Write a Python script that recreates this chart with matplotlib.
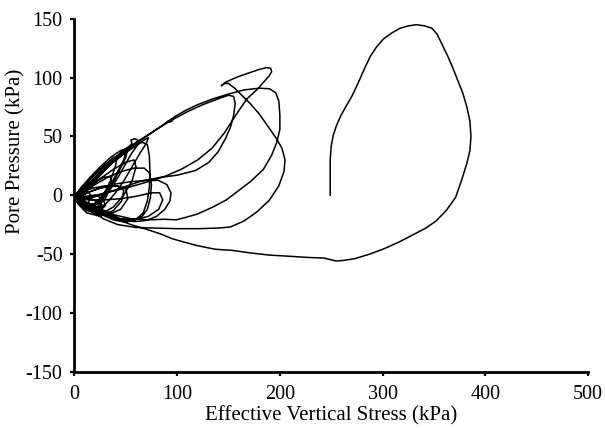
import numpy as np
import matplotlib

matplotlib.use("Agg")
from matplotlib import pyplot as plt

# first cycle: large loop starting from the in-situ state (250 kPa, 0 kPa)
right_x = [249, 249, 249, 250, 252, 255, 259, 264, 270, 276, 282, 288, 294, 301, 309, 317, 325, 333, 341, 348,
           353, 358, 363, 368, 373, 378, 382, 385, 386, 385, 382, 377, 371, 362, 352, 342, 331, 318, 303, 288,
           273, 262, 255, 250]
right_y = [0, 15, 30, 42, 51, 59, 67, 75, 84, 95, 107, 118, 126, 133, 138, 142, 144, 145, 144, 142,
           137, 128, 119, 109, 98, 87, 75, 63, 50, 38, 27, 13, -2, -13, -22, -28, -33, -39, -45, -50,
           -54, -55.5, -56, -55]

# unloading path back towards zero effective stress
bottom_x = [243, 228, 210, 190, 170, 154, 137, 120, 107, 95, 84, 70, 55, 40, 28, 20]
bottom_y = [-53.5, -53, -52, -51, -49, -47, -46, -43, -40, -37, -33, -29, -25, -20, -16, -12]

# second cycle with the hook near 145 kPa and the 108 kPa peak
hook_x = [5, 15, 28, 42, 60, 80, 100, 120, 140, 152, 165, 178, 190, 199, 204, 205, 202, 196, 188, 180,
          171, 163, 156, 150, 146, 143, 147, 152, 160, 170, 180, 187, 191, 192, 190, 185, 178, 168, 157, 146,
          134, 120, 104, 88, 70, 50, 30, 12]
hook_y = [-4, -12, -20, -25, -27.5, -28, -28.5, -28.5, -28, -27, -22, -14, -4, 8, 20, 30, 40, 49, 59, 69,
          78, 85, 91, 95, 95, 93, 96, 98, 101, 104, 107, 108.5, 108, 105, 102, 97, 90, 82, 68, 53,
          40, 30, 22, 16, 11, 6, 2, -2]

l1_x = [4, 12, 22, 32, 45, 60, 75, 85, 91, 95, 97, 95, 92, 98, 108, 120, 135, 150, 165, 180,
        190, 196, 199, 200, 200, 197, 192, 184, 172, 160, 148, 135, 120, 108, 99, 88, 72, 55, 40, 26, 12]
l1_y = [-2, 6, 15, 24, 35, 45, 53, 59, 63, 65, 66, 63, 62, 67, 72, 77, 82, 86, 89.5, 91,
        90.5, 87, 80, 68, 56, 45, 34, 22, 12, 4, -4, -10, -16, -19, -21, -20.5, -21, -20, -17, -12, -6]

l2_x = [3, 10, 20, 35, 50, 65, 80, 95, 110, 125, 140, 150, 155, 156.5, 155, 152, 147, 140, 131, 118,
        100, 83, 65, 45, 25, 10]
l2_y = [-3, 3, 12, 26, 37, 47, 56, 64, 71, 77, 82, 85, 84, 78, 68, 58, 48, 37, 28, 21,
        17, 15, 12, 6, 0, -4]

l3_x = [3, 12, 25, 40, 55, 70, 82, 90, 94, 93, 88, 80, 70, 58, 45, 30, 15, 5]
l3_y = [-3, 2, 6, 9.5, 11.5, 12.5, 12.5, 9, 2, -5, -12, -18, -21.5, -22.5, -20, -15, -9, -4]

l4_x = [2, 10, 20, 32, 45, 58, 68, 73, 75, 74, 71, 66, 58, 48, 36, 24, 12, 4]
l4_y = [-2, 3, 9, 15, 20, 23, 23, 19, 9, -2, -12, -18, -21.5, -22, -19, -14, -8, -4]

l5_x = [3, 12, 24, 36, 48, 58, 66, 71, 73, 73.5, 73, 71, 67, 60, 50, 38, 25, 12, 4]
l5_y = [-1, 8, 19, 29, 37, 42, 45, 43, 33, 20, 7, -5, -15, -20.5, -23, -21, -16, -9, -4]

# small cycles crowded near the origin
t1_x = [2, 10, 20, 30, 38, 42, 40, 35, 28, 20, 10, 3]
t1_y = [-2, 8, 18, 26, 32, 33, 25, 12, 0, -8, -10, -6]
t2_x = [1, 8, 18, 28, 35, 36, 30, 22, 12, 4]
t2_y = [-1, 4, 10, 15, 16, 8, -3, -10, -12, -7]
t3_x = [3, 12, 25, 40, 50, 52, 45, 32, 18, 6]
t3_y = [-3, 2, 6, 8, 6, -3, -12, -17, -15, -8]
t4_x = [1, 6, 15, 25, 35, 45, 52, 50, 42, 34, 25, 14, 5]
t4_y = [0, 6, 15, 24, 32, 38, 40, 32, 18, 5, -6, -12, -8]
t5_x = [2, 10, 20, 28, 30, 24, 14, 5]
t5_y = [-2, -1, 0, -3, -9, -14, -13, -8]
t6_x = [0.5, 6, 12, 16, 14, 8, 1]
t6_y = [-2, 2, 4, 0, -6, -8, -5]
t7_x = [4, 12, 22, 34, 46, 54, 56, 55, 59, 63, 61, 56, 50, 43, 35, 26, 16, 7]
t7_y = [-1, 7, 16, 27, 37, 42, 44, 47, 48, 46, 42, 36, 27, 16, 5, -4, -9, -6]
t8_x = [2, 10, 22, 35, 48, 60, 68, 72, 70, 64, 56, 48, 40, 30, 18, 7]
t8_y = [-1, 6, 16, 26, 35, 42, 47, 49, 44, 36, 24, 12, 2, -8, -13, -9]
t9_x = [3, 12, 25, 38, 50, 58, 60, 56, 48, 38, 26, 12, 4]
t9_y = [-2, 5, 14, 22, 28, 30, 24, 12, 0, -10, -16, -13, -6]
t10_x = [1, 8, 18, 30, 42, 48, 46, 38, 25, 12, 4]
t10_y = [-1, 3, 6, 8, 8, 4, -5, -13, -18, -15, -8]
t11_x = [2, 15, 30, 45, 60, 75, 83, 86, 82, 72, 58, 42, 26, 12, 3]
t11_y = [-3, -4, -4, -3, -1, 2, 2, -4, -12, -18, -21, -20, -15, -9, -4]
t12_x = [1, 8, 18, 28, 38, 46, 50, 48, 42, 36, 28, 20, 10, 3]
t12_y = [0, 7, 16, 24, 31, 36, 37, 30, 20, 10, 0, -7, -8, -4]
t13_x = [0.5, 5, 12, 20, 26, 24, 16, 8, 2]
t13_y = [-3, -6, -9, -11, -10, -6, -3, -1, -1]
t14_x = [1, 8, 16, 24, 28, 22, 12, 3]
t14_y = [-4, -10, -13, -13, -9, -5, -3, -2]

segments = [(right_x, right_y), (bottom_x, bottom_y), (hook_x, hook_y), (l1_x, l1_y), (l2_x, l2_y),
            (t4_x, t4_y), (l5_x, l5_y), (t8_x, t8_y), (t7_x, t7_y), (l3_x, l3_y), (t9_x, t9_y),
            (t1_x, t1_y), (t11_x, t11_y), (l4_x, l4_y), (t12_x, t12_y), (t3_x, t3_y), (t10_x, t10_y),
            (t2_x, t2_y), (t13_x, t13_y), (t5_x, t5_y), (t14_x, t14_y), (t6_x, t6_y)]
stress = np.concatenate([np.asarray(s[0], float) for s in segments])
pore = np.concatenate([np.asarray(s[1], float) for s in segments])

plt.rcParams['font.family'] = ['Liberation Serif', 'DejaVu Serif']
plt.rcParams['axes.unicode_minus'] = False

fig = plt.figure(figsize=(6.05, 4.28), dpi=100)
ax = fig.add_axes([0.123, 0.132, 0.849, 0.824])
ax.plot(stress, pore, color='black', lw=1.1, solid_joinstyle='round')

ax.set_xlim(0, 500)
ax.set_ylim(-150, 150)
ax.set_xticks([0, 100, 200, 300, 400, 500])
ax.set_yticks([-150, -100, -50, 0, 50, 100, 150])
ax.spines['top'].set_visible(False)
ax.spines['right'].set_visible(False)
for side in ['left', 'bottom']:
    ax.spines[side].set_linewidth(2.0)
ax.tick_params(direction='out', length=3, width=1.6, labelsize=14.5, colors='black')
ax.tick_params(axis='y', pad=5.5)
ax.tick_params(axis='x', pad=7)
ax.set_xlabel('Effective Vertical Stress (kPa)', fontsize=15, labelpad=1)
ax.set_ylabel('Pore Pressure (kPa)', fontsize=15)
ax.yaxis.set_label_coords(-0.096, 0.625)

fig.savefig('out.png', dpi=100)
